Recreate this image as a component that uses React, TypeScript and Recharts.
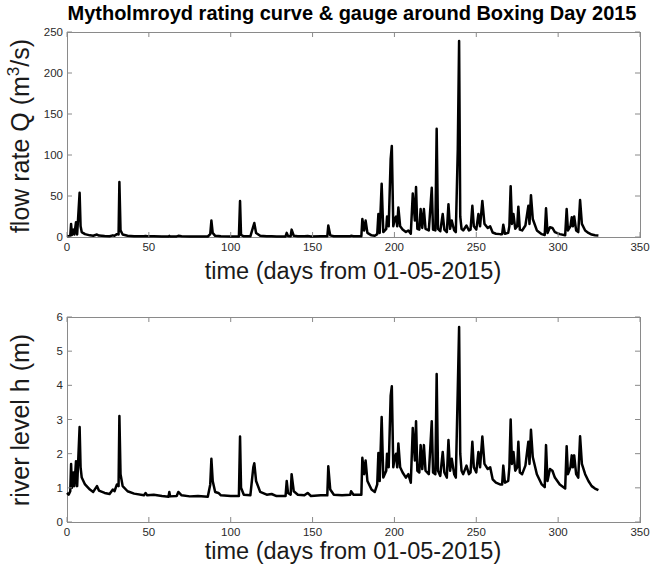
import React from 'react';
import { LineChart, Line, XAxis, YAxis } from 'recharts';

// days since 01-05-2015
const days = [
  0, 1, 2, 2.5, 3, 4, 4.5, 5.5, 6.2, 7.7, 8.3, 9, 11, 14, 16, 18.3, 19.5, 23, 26, 28, 29, 30.5, 31.5, 32, 32.7,
  34, 37, 41, 47, 48, 49, 53, 58, 62, 62.5, 63, 67, 68, 70, 75, 80, 86, 87.5, 88.2, 89, 90.5, 92.5, 94, 100,
  105, 105.7, 106.3, 108, 112, 113.8, 114.4, 115.5, 118, 122, 125, 128, 133.5, 134.2, 135, 136.6, 137.2, 138.5,
  141, 145, 147, 149, 155, 159, 159.6, 160.8, 163, 168, 173, 173.5, 175, 179.8, 180.4, 181.5, 182.4, 183.5, 186,
  188, 189.5, 190.2, 191, 192.2, 193.2, 195, 195.5, 196.5, 197.7, 198.4, 199.3, 200.2, 201, 201.7, 202.4, 203.5,
  205, 207, 208.5, 210, 211.2, 212.5, 213.2, 214, 215.2, 216, 217, 218, 219, 221, 222.8, 223.6, 225, 225.8,
  226.6, 228, 229.5, 230.5, 232, 233, 234, 235, 236.5, 237.5, 238.7, 239.5, 240.2, 241, 242, 244, 245.5, 246.5,
  247.6, 248.5, 250, 251.3, 252.3, 253.7, 255, 257, 258.5, 260, 262, 264.5, 265.8, 266.5, 267.5, 269.5, 270.2,
  271, 271.8, 272.7, 273.8, 275, 275.7, 276.6, 278, 280, 281.8, 282.5, 283.4, 284.5, 287, 290, 291.8, 292.6,
  293.5, 295, 296.5, 298, 301, 304.3, 305.2, 306, 307.5, 308.3, 309, 309.8, 311, 312.3, 313.4, 314.5, 316.5,
  318.5, 320.5, 322.5, 324.6,
];

// river level h (m)
const level = [
  0.85, 0.8, 0.9, 1.7, 1.0, 1.45, 1.05, 1.78, 1.05, 2.78, 1.6, 1.3, 1.1, 0.95, 0.88, 1.05, 0.92, 0.85, 0.82, 0.95,
  0.9, 1.1, 1.05, 3.1, 1.4, 1.05, 0.9, 0.83, 0.78, 0.85, 0.78, 0.8, 0.76, 0.74, 0.88, 0.75, 0.76, 0.88, 0.78,
  0.75, 0.76, 0.74, 1.1, 1.85, 1.2, 0.88, 0.85, 0.78, 0.76, 0.76, 2.5, 1.0, 0.8, 0.78, 1.6, 1.72, 1.2, 0.88,
  0.8, 0.82, 0.76, 0.76, 1.2, 0.85, 0.8, 1.4, 0.9, 0.8, 0.78, 0.85, 0.76, 0.78, 0.78, 1.63, 0.95, 0.8, 0.78,
  0.8, 0.9, 0.8, 0.8, 1.88, 1.4, 1.8, 1.2, 0.95, 0.88, 1.1, 2.02, 1.2, 3.07, 1.3, 1.5, 2.0, 1.6, 3.7, 3.97, 1.6,
  1.9, 2.0, 1.6, 2.3, 1.6, 1.45, 1.3, 1.4, 1.15, 2.75, 1.8, 2.95, 1.5, 1.45, 2.25, 1.55, 2.25, 1.5, 1.4, 2.95,
  1.45, 1.4, 4.33, 1.5, 1.35, 2.05, 1.45, 1.3, 2.4, 1.5, 1.85, 1.4, 1.3, 3.9, 5.71, 2.0, 1.5, 1.4, 1.65, 1.4,
  1.45, 2.35, 1.6, 1.45, 2.05, 1.6, 2.5, 1.7, 1.55, 1.6, 1.25, 1.15, 1.1, 1.1, 1.65, 1.15, 1.2, 1.6, 3.0, 1.7,
  2.05, 1.5, 1.6, 2.35, 1.45, 1.4, 1.65, 2.35, 1.7, 2.7, 1.9, 1.4, 1.1, 1.02, 2.25, 1.2, 1.55, 1.5, 1.3, 1.1,
  0.98, 2.22, 1.4, 1.6, 1.95, 1.6, 1.95, 1.4, 1.3, 2.51, 1.7, 1.4, 1.2, 1.05, 0.98, 0.93,
];

// flow rate Q (m^3/s)
const flow = [
  1.2, 0.8, 1.5, 16, 2.5, 9, 3, 18, 3, 54, 13, 6, 3.5, 2, 1.5, 3, 1.8, 1.2, 1, 2, 1.5, 3.5, 3, 67, 8, 3, 1.5, 1,
  0.8, 1.2, 0.8, 0.9, 0.7, 0.6, 1.4, 0.6, 0.7, 1.4, 0.8, 0.6, 0.7, 0.6, 3.5, 20, 5, 1.4, 1.2, 0.8, 0.7, 0.7, 44,
  2.5, 0.9, 0.8, 13, 17, 5, 1.4, 0.9, 1, 0.7, 0.7, 5, 1.2, 0.9, 9, 1.5, 0.9, 0.8, 1.2, 0.7, 0.8, 0.8, 14, 2,
  0.9, 0.8, 0.9, 1.5, 0.9, 0.9, 22, 8, 20, 5, 2, 1.5, 3.5, 28, 5, 65, 6, 10, 25, 13, 95, 111, 13, 22, 25, 13, 36,
  13, 9, 6, 8, 4, 53, 20, 61, 10, 9, 34, 11, 34, 10, 8, 60, 9, 8, 132, 10, 7, 28, 9, 6, 40, 10, 20, 8, 6, 107,
  239, 25, 10, 8, 14, 8, 9, 38, 13, 9, 28, 13, 44, 16, 11, 13, 5.5, 4, 3.5, 3.5, 15, 4, 5, 13, 62, 16, 28, 10,
  13, 37, 9, 8, 14, 38, 16, 51, 22, 8, 3.5, 2.5, 35, 5, 12, 11, 6, 3.5, 2.2, 34, 8, 13, 24, 13, 25, 8, 6, 45,
  16, 8, 5, 3, 2.2, 1.8,
];

const dayTicks = [0, 50, 100, 150, 200, 250, 300, 350];
const flowTicks = [0, 50, 100, 150, 200, 250];
const levelTicks = [0, 1, 2, 3, 4, 5, 6];

const series = days.map((d, i) => ({ day: d, h: level[i], q: flow[i] }));

const FONT = '"Liberation Sans", Arial, sans-serif';
const FRAME = '#8a8a8a';
const TICK_COLOR = '#2a2a2a';

const PLOT_LEFT = 67;
const PLOT_W = 573;
const PLOT_H = 205;

// label plus inward tick marks on bottom and top edges
const BottomTick = ({ x, y, payload }: any) => {
  const base = y - 6;
  return (
    <g>
      <line x1={x} x2={x} y1={base} y2={base - 5} stroke={FRAME} />
      <line x1={x} x2={x} y1={base - PLOT_H} y2={base - PLOT_H + 5} stroke={FRAME} />
      <text x={x} y={y} dy="0.71em" textAnchor="middle" fontSize={11.5} fill={TICK_COLOR} fontFamily={FONT}>
        {payload.value}
      </text>
    </g>
  );
};

// label plus inward tick marks on left and right edges
const LeftTick = ({ x, y, payload }: any) => {
  const edge = x + 4;
  return (
    <g>
      <line x1={edge} x2={edge + 5} y1={y} y2={y} stroke={FRAME} />
      <line x1={edge + PLOT_W} x2={edge + PLOT_W - 5} y1={y} y2={y} stroke={FRAME} />
      <text x={x} y={y} dy="0.35em" textAnchor="end" fontSize={11.5} fill={TICK_COLOR} fontFamily={FONT}>
        {payload.value}
      </text>
    </g>
  );
};

function Panel({ height, top, bottom, dataKey, yMax, yTicks }: any) {
  return (
    <LineChart
      width={650}
      height={height}
      data={series}
      margin={{ top, right: 10, bottom, left: 27 }}
    >
      <XAxis
        dataKey="day"
        type="number"
        domain={[0, 350]}
        ticks={dayTicks}
        interval={0}
        height={20}
        tickSize={-5}
        tickMargin={11}
        tick={<BottomTick />}
        axisLine={false}
        tickLine={false}
      />
      <YAxis
        type="number"
        domain={[0, yMax]}
        ticks={yTicks}
        interval={0}
        width={40}
        tickSize={-5}
        tickMargin={9}
        tick={<LeftTick />}
        axisLine={false}
        tickLine={false}
      />
      <Line
        type="linear"
        dataKey={dataKey}
        stroke="#000"
        strokeWidth={2.5}
        dot={false}
        strokeLinejoin="round"
        isAnimationActive={false}
      />
    </LineChart>
  );
}

const frame = (top: number) => ({
  position: 'absolute' as const,
  left: PLOT_LEFT,
  top,
  width: PLOT_W + 1,
  height: PLOT_H + 1,
  border: `1px solid ${FRAME}`,
  boxSizing: 'border-box' as const,
  pointerEvents: 'none' as const,
});

const abs = (left: number, top: number, extra: any = {}) => ({
  position: 'absolute' as const,
  left,
  top,
  transform: 'translate(-50%, -50%)',
  whiteSpace: 'nowrap' as const,
  fontFamily: FONT,
  color: '#1a1a1a',
  lineHeight: 1,
  ...extra,
});

export default function App() {
  return (
    <div style={{ position: 'absolute', left: 0, top: 0, width: 650, height: 568, background: '#fff' }}>
      <div style={frame(32)} />
      <div style={frame(317)} />
      <div style={{ position: 'absolute', left: 0, top: 0 }}>
        <Panel height={290} top={32} bottom={33} dataKey="q" yMax={250} yTicks={flowTicks} />
      </div>
      <div style={{ position: 'absolute', left: 0, top: 290 }}>
        <Panel height={278} top={27} bottom={26} dataKey="h" yMax={6} yTicks={levelTicks} />
      </div>

      <div style={abs(352, 13, { fontSize: 20, fontWeight: 'bold', color: '#000' })}>
        Mytholmroyd rating curve &amp; gauge around Boxing Day 2015
      </div>

      <div style={abs(20, 136, { fontSize: 25, transform: 'translate(-50%, -50%) rotate(-90deg)' })}>
        flow rate Q (m<sup style={{ fontSize: 17, verticalAlign: 'super', lineHeight: 0 }}>3</sup>/s)
      </div>
      <div style={abs(353, 272, { fontSize: 23.5 })}>time (days from 01-05-2015)</div>

      <div style={abs(20, 420, { fontSize: 25, transform: 'translate(-50%, -50%) rotate(-90deg)' })}>
        river level h (m)
      </div>
      <div style={abs(353, 552, { fontSize: 23.5 })}>time (days from 01-05-2015)</div>
    </div>
  );
}
